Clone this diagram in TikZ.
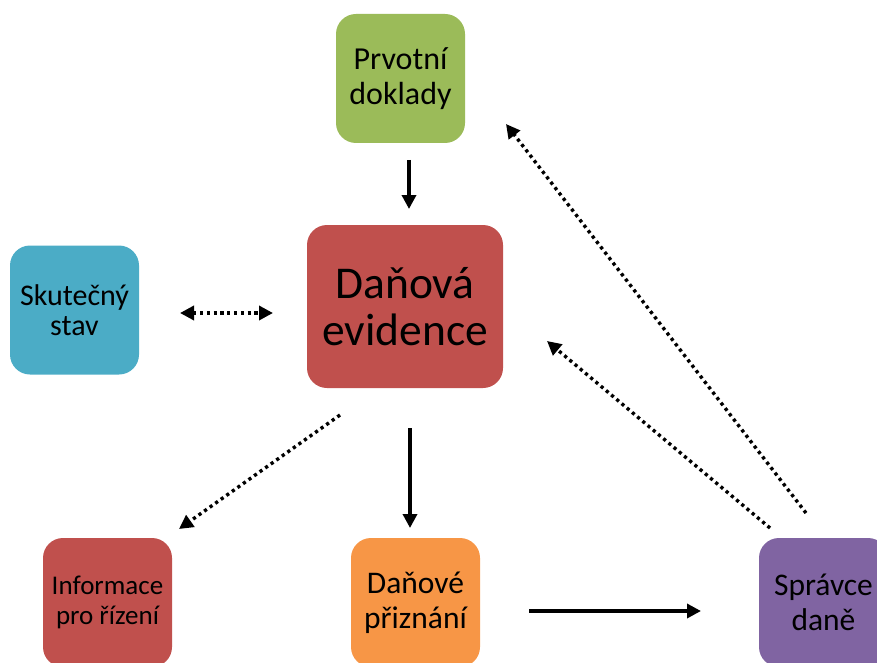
\documentclass[tikz,border=0pt]{standalone}
\usepackage{fontspec}
\setmainfont{Carlito}
\usetikzlibrary{arrows.meta}
\definecolor{cgreen}{HTML}{9BBB59}
\definecolor{cred}{HTML}{C0504D}
\definecolor{cblue}{HTML}{4BACC6}
\definecolor{corange}{HTML}{F79646}
\definecolor{cpurple}{HTML}{8064A2}
\tikzset{
  box/.style={rounded corners=20pt, inner sep=0pt, minimum width=129pt, minimum height=129pt, align=center, text=black},
  solidarrow/.style={line width=3.4pt, -{Triangle[length=14pt,width=14pt]}},
  dotarrow/.style={line width=3.4pt, dash pattern=on 3.2pt off 3.6pt, -{Triangle[length=14pt,width=14pt]}},
  dotboth/.style={line width=3.4pt, dash pattern=on 3.2pt off 3.6pt, {Triangle[length=14pt,width=14pt]}-{Triangle[length=14pt,width=14pt]}}
}
\begin{document}
\begin{tikzpicture}[x=1pt,y=-1pt]
\useasboundingbox (0,0) rectangle (877,663);
\clip (0,0) rectangle (877,663);
\node[box, fill=cgreen, font=\fontsize{32}{35}\selectfont] (prv) at (400.5,78.5) {Prvotní\\doklady};
\node[box, fill=cred, minimum width=196pt, minimum height=163pt, font=\fontsize{45.5}{47}\selectfont] (dan) at (405,306.5) {Daňová\\evidence};
\node[box, fill=cblue, font=\fontsize{30}{30}\selectfont] (sku) at (74.5,310) {Skutečný\\stav};
\node[box, fill=cred, font=\fontsize{27}{30}\selectfont] (inf) at (107.5,602.5) {Informace\\pro řízení};
\node[box, fill=corange, font=\fontsize{31.5}{35}\selectfont] (pri) at (415.5,602.5) {Daňové\\přiznání};
\node[box, fill=cpurple, font=\fontsize{31.5}{35}\selectfont] (spr) at (823.5,602.5) {Správce\\daně};

\coordinate (a1s) at (409,160); \coordinate (a1e) at (409,209);
\coordinate (a2s) at (180,313); \coordinate (a2e) at (273,313);
\coordinate (a3s) at (340,415); \coordinate (a3e) at (179,529);
\coordinate (a4s) at (410,428); \coordinate (a4e) at (410,528);
\coordinate (a5s) at (529,611); \coordinate (a5e) at (701,611);
\coordinate (a6s) at (770,528); \coordinate (a6e) at (547,341);
\coordinate (a7s) at (806,513); \coordinate (a7e) at (506,124);

\draw[solidarrow] (a1s) -- (a1e);
\draw[dotboth] (a2s) -- (a2e);
\draw[dotarrow] (a3s) -- (a3e);
\draw[solidarrow] (a4s) -- (a4e);
\draw[solidarrow] (a5s) -- (a5e);
\draw[dotarrow] (a6s) -- (a6e);
\draw[dotarrow] (a7s) -- (a7e);
\end{tikzpicture}
\end{document}
